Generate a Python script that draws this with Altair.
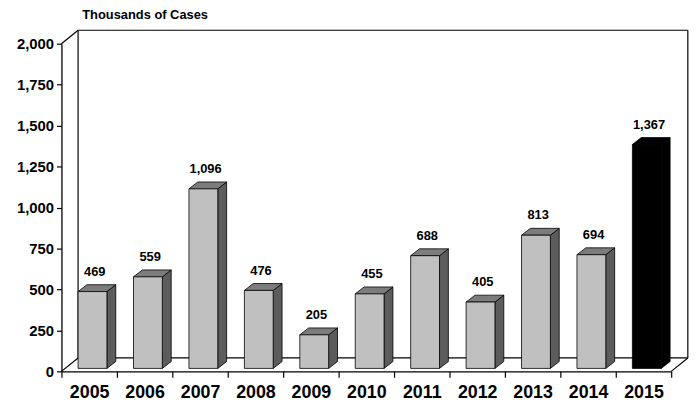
import altair as alt
import pandas as pd

# ---- data ----
years = [2005, 2006, 2007, 2008, 2009, 2010, 2011, 2012, 2013, 2014, 2015]
cases = [469, 559, 1096, 476, 205, 455, 688, 405, 813, 694, 1367]
y_ticks = [0, 250, 500, 750, 1000, 1250, 1500, 1750, 2000]
title_text = "Thousands of Cases"

# ---- 3D geometry (in data units) ----
N = len(years)
YMAX = 2000
FRONT_L, FRONT_R = 0.30, 0.82   # bar front face within a category cell
BASE = 18                        # bars sit slightly behind the floor front edge
BDX, BDY = 0.16, 42              # bar depth
WDX, WDY = 0.30, 82              # wall / floor depth

front_rows, side_rows, top_rows, lab_rows = [], [], [], []
for i, (yr, v) in enumerate(zip(years, cases)):
    x0, x1 = i + FRONT_L, i + FRONT_R
    front_rows.append(dict(year=yr, x=x0, x2=x1, lo=BASE, hi=v + BASE))
    side_rows += [dict(year=yr, x=x1, lo=BASE, hi=v + BASE),
                  dict(year=yr, x=x1 + BDX, lo=BASE + BDY, hi=v + BASE + BDY)]
    top_rows += [dict(year=yr, x=x0, lo=v + BASE, hi=v + BASE),
                 dict(year=yr, x=x0 + BDX, lo=v + BASE, hi=v + BASE + BDY),
                 dict(year=yr, x=x1, lo=v + BASE, hi=v + BASE + BDY),
                 dict(year=yr, x=x1 + BDX, lo=v + BASE + BDY, hi=v + BASE + BDY)]
    lab_rows.append(dict(year=yr, value=v, x=i + 0.6, y=v + BASE + BDY))

frame_rows = [
    dict(x=0, y=YMAX, x2=WDX, y2=YMAX + WDY),
    dict(x=WDX, y=YMAX + WDY, x2=N + WDX, y2=YMAX + WDY),
    dict(x=N + WDX, y=YMAX + WDY, x2=N + WDX, y2=WDY),
    dict(x=WDX, y=WDY, x2=N + WDX, y2=WDY),
    dict(x=WDX, y=WDY, x2=WDX, y2=YMAX + WDY),
    dict(x=0, y=0, x2=WDX, y2=WDY),
    dict(x=N, y=0, x2=N + WDX, y2=WDY),
]

front_df = pd.DataFrame(front_rows)
side_df = pd.DataFrame(side_rows)
top_df = pd.DataFrame(top_rows)
lab_df = pd.DataFrame(lab_rows)
frame_df = pd.DataFrame(frame_rows)

FONT = "Liberation Sans"
xs = alt.Scale(domain=[0, N], nice=False, zero=False)
ys = alt.Scale(domain=[0, YMAX], nice=False)

year_map = "{" + ",".join(f"'{i}':'{y}'" for i, y in enumerate(years)) + "}"
xaxis = alt.Axis(values=list(range(N + 1)), title=None, grid=False,
                 labelExpr=f"{year_map}[toString(datum.value)] || ''",
                 labelOverlap=False, labelBound=False, labelFlush=False,
                 labelOffset=28, labelFont=FONT, labelFontSize=18,
                 labelFontWeight="bold", labelColor="black", labelPadding=6,
                 tickSize=6, tickColor="black", domainColor="black",
                 domainWidth=1.3, tickWidth=1.2)
yaxis = alt.Axis(values=y_ticks, title=None, grid=False,
                 labelExpr="format(datum.value, ',')",
                 labelOverlap=False, labelFlush=False,
                 labelFont=FONT, labelFontSize=15, labelFontWeight="bold",
                 labelColor="black", labelPadding=3, tickSize=5,
                 tickColor="black", domainColor="black", domainWidth=1.3,
                 tickWidth=1.2)


def X(f):
    return alt.X(f, type="quantitative", scale=xs, axis=xaxis)


def Y(f):
    return alt.Y(f, type="quantitative", scale=ys, axis=yaxis)


is_last = alt.datum.year == years[-1]

frame = alt.Chart(frame_df).mark_rule(color="black", strokeWidth=1.2).encode(
    x=X("x"), y=Y("y"), x2="x2", y2="y2")

side = alt.Chart(side_df).mark_area(stroke="black", strokeWidth=0.8).encode(
    x=X("x"), y=Y("lo"), y2="hi", detail="year:N",
    fill=alt.condition(is_last, alt.value("black"), alt.value("#5c5c5c")))

top = alt.Chart(top_df).mark_area(stroke="black", strokeWidth=0.8).encode(
    x=X("x"), y=Y("lo"), y2="hi", detail="year:N",
    fill=alt.condition(is_last, alt.value("black"), alt.value("#7c7c7c")))

front = alt.Chart(front_df).mark_rect(stroke="black", strokeWidth=0.8).encode(
    x=X("x"), x2="x2", y=Y("lo"), y2="hi",
    fill=alt.condition(is_last, alt.value("black"), alt.value("#c0c0c0")))

labels = alt.Chart(lab_df).mark_text(
    font=FONT, fontSize=13, fontWeight="bold", color="black",
    baseline="alphabetic", dy=-9).encode(
    x=X("x"), y=Y("y"), text=alt.Text("value:Q", format=","))

chart = alt.layer(frame, side, top, front, labels).properties(
    width=616, height=331,
    title=alt.TitleParams(title_text, anchor="start", frame="group", font=FONT,
                          fontSize=13, fontWeight="bold", color="black",
                          dx=21, offset=8),
    autosize=alt.AutoSizeParams(type="none"),
    padding={"left": 54, "top": 34, "right": 20, "bottom": 40},
).configure_view(stroke=None)

chart.save("out.html", embed_options={"renderer": "svg", "actions": False})
